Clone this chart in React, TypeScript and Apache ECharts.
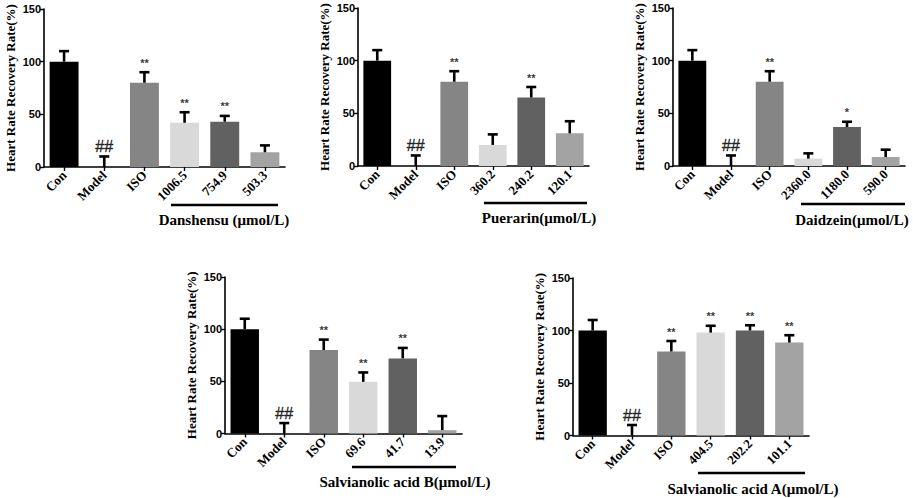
import React, { useEffect, useRef } from "react";
import * as echarts from "echarts";

// ---------- data ----------
const cats1 = ["Con", "Model", "ISO", "1006.5", "754.9", "503.3"];
const vals1 = [100, 0, 80, 42, 43, 14];
const errs1 = [10, 10, 10, 10, 5.5, 6.5];
const sig1 = ["", "##", "**", "**", "**", ""];

const cats2 = ["Con", "Model", "ISO", "360.2", "240.2", "120.1"];
const vals2 = [100, 0, 80, 20, 65, 31];
const errs2 = [10, 10, 10, 10, 10, 11.5];
const sig2 = ["", "##", "**", "", "**", ""];

const cats3 = ["Con", "Model", "ISO", "2360.0", "1180.0", "590.0"];
const vals3 = [100, 0, 80, 7, 37, 8.5];
const errs3 = [10, 10, 10, 5, 5, 7];
const sig3 = ["", "##", "**", "", "*", ""];

const cats4 = ["Con", "Model", "ISO", "69.6", "41.7", "13.9"];
const vals4 = [100, 0, 80, 49.5, 72, 3.2];
const errs4 = [10, 10, 10, 9, 10, 13.5];
const sig4 = ["", "##", "**", "**", "**", ""];

const cats5 = ["Con", "Model", "ISO", "404.5", "202.2", "101.1"];
const vals5 = [100, 0, 80, 98, 100, 88.5];
const errs5 = [10, 10, 10, 6.5, 5, 7];
const sig5 = ["", "##", "**", "**", "**", "**"];

const groupNames = [
  "Danshensu (μmol/L)",
  "Puerarin(μmol/L)",
  "Daidzein(μmol/L)",
  "Salvianolic acid B(μmol/L)",
  "Salvianolic acid A(μmol/L)",
];

const yTicks = { min: 0, max: 150, interval: 50 };
const yTitle = "Heart Rate Recovery Rate(%)";

// ---------- layout / style ----------
const barColors = ["#000000", "#000000", "#858585", "#d9d9d9", "#616161", "#a3a3a3"];
const grids = [
  { left: 44, top: 9, width: 241, height: 158 },
  { left: 358, top: 8, width: 231, height: 158 },
  { left: 673, top: 8, width: 232, height: 158 },
  { left: 225, top: 277, width: 237, height: 156.5 },
  { left: 573, top: 278, width: 236, height: 157.5 },
];
const underlines = [
  { x1: 171, x2: 278, y: 205, tx: 224, ty: 220 },
  { x1: 484, x2: 587, y: 203, tx: 539, ty: 218 },
  { x1: 801, x2: 905, y: 204, tx: 852, ty: 220 },
  { x1: 352, x2: 456, y: 467, tx: 405, ty: 482 },
  { x1: 698, x2: 805, y: 473, tx: 753, ty: 489 },
];

const panels = [
  { cats: cats1, vals: vals1, errs: errs1, sig: sig1 },
  { cats: cats2, vals: vals2, errs: errs2, sig: sig2 },
  { cats: cats3, vals: vals3, errs: errs3, sig: sig3 },
  { cats: cats4, vals: vals4, errs: errs4, sig: sig4 },
  { cats: cats5, vals: vals5, errs: errs5, sig: sig5 },
];

const SERIF = "'Liberation Serif', 'Times New Roman', serif";
const SANS = "'Liberation Sans', Arial, sans-serif";

export default function App() {
  const ref = useRef<HTMLDivElement>(null);

  useEffect(() => {
    if (!ref.current) return;
    const chart = echarts.init(ref.current, null, { renderer: "svg" });

    const xAxis: any[] = [];
    const yAxis: any[] = [];
    const series: any[] = [];
    const graphic: any[] = [];

    panels.forEach((p, k) => {
      xAxis.push({
        type: "category",
        gridIndex: k,
        data: p.cats,
        axisLine: { lineStyle: { color: "#000", width: 1.6 } },
        axisTick: { show: true, alignWithLabel: true, length: 4, lineStyle: { color: "#000", width: 1.4 } },
        axisLabel: {
          rotate: 45,
          margin: 6,
          color: "#000",
          fontFamily: SERIF,
          fontWeight: "bold",
          fontSize: 13,
        },
      });
      yAxis.push({
        type: "value",
        gridIndex: k,
        min: yTicks.min,
        max: yTicks.max,
        interval: yTicks.interval,
        name: yTitle,
        nameLocation: "middle",
        nameRotate: 90,
        nameGap: 27,
        nameTextStyle: { color: "#000", fontFamily: SERIF, fontWeight: "bold", fontSize: 13 },
        splitLine: { show: false },
        axisLine: { show: true, lineStyle: { color: "#000", width: 1.6 } },
        axisTick: { show: true, length: 4, lineStyle: { color: "#000", width: 1.4 } },
        axisLabel: { color: "#000", fontFamily: SANS, fontWeight: "bold", fontSize: 11, margin: 3 },
      });
      series.push({
        type: "bar",
        xAxisIndex: k,
        yAxisIndex: k,
        barWidth: "72%",
        data: p.vals.map((v, i) => ({ value: v, itemStyle: { color: barColors[i] } })),
      });
      series.push({
        type: "custom",
        xAxisIndex: k,
        yAxisIndex: k,
        z: 3,
        data: p.vals.map((v, i) => [i, v, v + p.errs[i]]),
        renderItem: (params: any, api: any) => {
          const lo = api.coord([api.value(0), api.value(1)]);
          const hi = api.coord([api.value(0), api.value(2)]);
          const hw = 5;
          const style = { stroke: "#000", lineWidth: 2.6 };
          return {
            type: "group",
            children: [
              { type: "line", shape: { x1: lo[0], y1: lo[1], x2: hi[0], y2: hi[1] }, style },
              { type: "line", shape: { x1: hi[0] - hw, y1: hi[1], x2: hi[0] + hw, y2: hi[1] }, style },
            ],
          };
        },
      });
      series.push({
        type: "scatter",
        xAxisIndex: k,
        yAxisIndex: k,
        symbolSize: 0,
        silent: true,
        itemStyle: { color: "#000" },
        label: { show: true, color: "#000" },
        data: p.vals.map((v, i) => ({
          value: [i, v + p.errs[i]],
          label: {
            show: p.sig[i] !== "",
            position: "top",
            distance: p.sig[i] === "##" ? 2 : 4,
            formatter: p.sig[i],
            color: "#000",
            fontFamily: SANS,
            fontWeight: p.sig[i] === "##" ? "normal" : "bold",
            fontSize: p.sig[i] === "##" ? 16 : 11,
            textBorderColor: p.sig[i] === "##" ? "#000" : "transparent",
            textBorderWidth: p.sig[i] === "##" ? 0.4 : 0,
          },
        })),
      });
      const u = underlines[k];
      graphic.push({
        type: "line",
        shape: { x1: u.x1, y1: u.y, x2: u.x2, y2: u.y },
        style: { stroke: "#000", lineWidth: 2.5 },
      });
      graphic.push({
        type: "text",
        x: u.tx,
        y: u.ty,
        style: {
          text: groupNames[k],
          align: "center",
          verticalAlign: "middle",
          fill: "#000",
          font: `bold 15px ${SERIF}`,
        },
      });
    });

    chart.setOption({
      animation: false,
      backgroundColor: "#fff",
      grid: grids.map((g) => ({ ...g, containLabel: false })),
      xAxis,
      yAxis,
      series,
      graphic,
    });

    return () => chart.dispose();
  }, []);

  return (
    <div
      ref={ref}
      style={{ position: "fixed", left: 0, top: 0, width: 913, height: 498, background: "#fff" }}
    />
  );
}
